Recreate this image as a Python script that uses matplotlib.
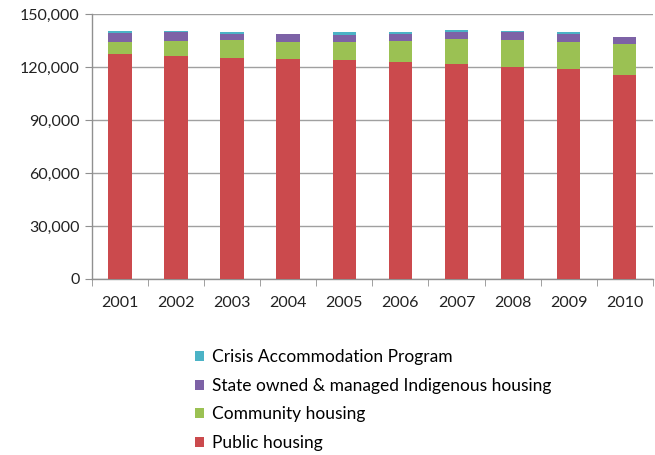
import matplotlib
matplotlib.use("Agg")
import matplotlib.pyplot as plt
import numpy as np
from matplotlib.ticker import FuncFormatter, FixedLocator
from matplotlib.patches import Patch

years = ["2001", "2002", "2003", "2004", "2005", "2006", "2007", "2008", "2009", "2010"]
public_housing = [127200, 126400, 124900, 124300, 124000, 122700, 121500, 120200, 118900, 115500]
community_housing = [7100, 8300, 10400, 9700, 10000, 12000, 14300, 15100, 15100, 17500]
indigenous_housing = [4900, 4900, 3400, 4500, 4100, 3800, 3800, 4300, 4500, 3800]
crisis_accommodation = [1300, 900, 1300, 300, 1500, 1500, 1300, 900, 1500, 0]

series_names = ["Public housing", "Community housing",
                "State owned & managed Indigenous housing", "Crisis Accommodation Program"]
series_values = [public_housing, community_housing, indigenous_housing, crisis_accommodation]
colors = ["#CB4A4D", "#9BC153", "#7D62A6", "#4BB3C6"]

yticks = [0, 30000, 60000, 90000, 120000, 150000]

plt.rcParams["font.family"] = ["Lato", "DejaVu Sans"]

fig = plt.figure(figsize=(6.55, 4.55), dpi=100)
ax = fig.add_axes([0.1405, 0.387, 0.856, 0.582])

x = np.arange(len(years))
bottom = np.zeros(len(years))
for name, vals, c in zip(series_names, series_values, colors):
    ax.bar(x, vals, width=0.42, bottom=bottom, color=c, label=name, zorder=3)
    bottom += np.array(vals)

ax.set_xlim(-0.5, len(years) - 0.5)
ax.set_ylim(0, 150000)
ax.set_yticks(yticks)
ax.yaxis.set_major_formatter(FuncFormatter(lambda v, p: f"{int(v):,}"))
ax.grid(axis="y", color="#A0A0A0", linewidth=1.0, zorder=0)

ax.set_xticks(x)
ax.set_xticklabels(years)
ax.xaxis.set_minor_locator(FixedLocator(np.arange(-0.5, len(years), 1.0)))
ax.tick_params(axis="x", which="major", length=0, pad=12, labelsize=11.5, colors="#222222")
ax.tick_params(axis="x", which="minor", length=5, color="#909090")
ax.tick_params(axis="y", length=5, color="#909090", labelsize=11.5, labelcolor="#222222", pad=4)

for s in ["top", "right"]:
    ax.spines[s].set_visible(False)
for s in ["left", "bottom"]:
    ax.spines[s].set_color("#909090")
    ax.spines[s].set_linewidth(1.0)

handles = [Patch(facecolor=c, edgecolor="none") for c in colors][::-1]
labels = series_names[::-1]
fig.legend(handles, labels, loc="upper left", bbox_to_anchor=(0.298, 0.232),
           frameon=False, fontsize=12.5, handlelength=0.5, handleheight=0.5,
           handletextpad=0.45, labelspacing=0.72, borderpad=0, borderaxespad=0)

fig.savefig("out.png", dpi=100)
